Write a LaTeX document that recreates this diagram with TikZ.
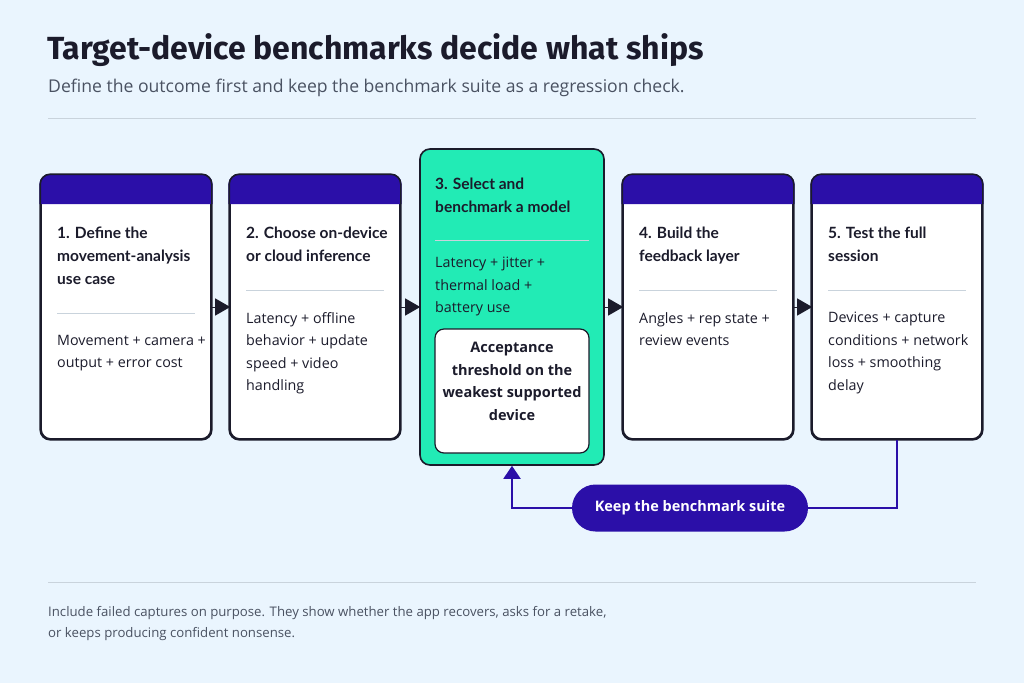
\documentclass[tikz,border=0pt]{standalone}
\usepackage{fontspec}
\setmainfont{Open Sans}
\newfontfamily\headf{Lato}
\newfontfamily\bigf{Fira Sans}
\usetikzlibrary{arrows.meta}
\definecolor{bgc}{HTML}{EAF5FE}
\definecolor{purp}{HTML}{2B0FA8}
\definecolor{mint}{HTML}{22EBB5}
\definecolor{edge}{HTML}{1B1B2B}
\definecolor{grayt}{HTML}{4A5262}
\definecolor{rulec}{HTML}{C9D3DC}
\begin{document}
\begin{tikzpicture}[x=1pt,y=-1pt,
  card/.style={draw=edge,line width=1.6pt,rounded corners=10pt,fill=white,minimum width=170pt,minimum height=264pt,inner sep=0pt},
  ttl/.style={anchor=north west,inner sep=0pt,align=left,font=\headf\bfseries\fontsize{15.5}{23}\selectfont,text=edge},
  bdy/.style={anchor=north west,inner sep=0pt,align=left,font=\fontsize{14.3}{22.5}\selectfont,text=edge},
  sep/.style={draw=rulec,line width=1pt},
  arr/.style={draw=edge,line width=1pt,-{Triangle[length=15pt,width=17pt]},shorten >=-1pt},
  lp/.style={draw=purp,line width=2pt}]
\useasboundingbox (0,0) rectangle (1024,683);
\fill[bgc] (0,0) rectangle (1024,683);
\node[anchor=base west,inner sep=0pt,font=\bigf\bfseries\fontsize{32}{36}\selectfont,text=edge] (title) at (47,59) {Target-device benchmarks decide what ships};
\node[anchor=base west,inner sep=0pt,font=\fontsize{17.6}{20}\selectfont,text=grayt] (sub) at (48,92) {Define the outcome first and keep the benchmark suite as a regression check.};
\draw[rulec,line width=1pt] (48,118) -- (976,118);
\draw[rulec,line width=1pt] (48,582) -- (976,582);
% cards
\node[card] (c1) at (126,307) {};
\node[card] (c2) at (315,307) {};
\node[card,fill=mint,minimum width=184pt,minimum height=316pt] (c3) at (512,307) {};
\node[card] (c4) at (708,307) {};
\node[card] (c5) at (897,307) {};
\foreach \c in {c1,c2,c4,c5}{
  \fill[purp] ([xshift=-0.8pt,yshift=0pt]\c.north west) ++(0,30) [rounded corners=10pt] -- ([xshift=-0.8pt]\c.north west) -- ([xshift=0.8pt]\c.north east) [sharp corners] -- ++(0,30) -- cycle;
  \draw[edge,line width=1.6pt,rounded corners=10pt] (\c.north west) rectangle (\c.south east);
}
% card 1
\node[ttl] (t1) at (57,227) {1. Define the\\movement-analysis\\use case};
\draw[sep] (57,313) -- (195,313);
\node[bdy] (b1) at (57,335) {Movement + camera +\\output + error cost};
% card 2
\node[ttl] (t2) at (246,227) {2. Choose on-device\\or cloud inference};
\draw[sep] (246,290) -- (384,290);
\node[bdy] (b2) at (246,312) {Latency + offline\\behavior + update\\speed + video\\handling};
% card 3
\node[ttl] (t3) at (435,178) {3. Select and\\benchmark a model};
\draw[sep] (435,240) -- (589,240);
\node[bdy] (b3) at (435,257) {Latency + jitter +\\thermal load +\\battery use};
\node[draw=edge,line width=1.2pt,rounded corners=9pt,fill=white,minimum width=154pt,minimum height=124pt,inner sep=0pt] (acc) at (512,391) {};
\node[anchor=north,inner sep=0pt,align=center,font=\bfseries\fontsize{14.5}{22.5}\selectfont,text=edge] (acct) at (512,342) {Acceptance\\threshold on the\\weakest supported\\device};
% card 4
\node[ttl] (t4) at (639,227) {4. Build the\\feedback layer};
\draw[sep] (639,290) -- (777,290);
\node[bdy] (b4) at (639,312) {Angles + rep state +\\review events};
% card 5
\node[ttl] (t5) at (828,227) {5. Test the full\\session};
\draw[sep] (828,290) -- (966,290);
\node[bdy] (b5) at (828,312) {Devices + capture\\conditions + network\\loss + smoothing\\delay};
% arrows
\draw[arr] (c1) -- (c2);
\draw[arr] (c2) -- (c3);
\draw[arr] (c3) -- (c4);
\draw[arr] (c4) -- (c5);
% loop
\node[fill=purp,rounded corners=23.5pt,minimum width=236pt,minimum height=47pt,inner sep=0pt,text=white,font=\bfseries\fontsize{14.5}{16}\selectfont] (pill) at (690,508) {Keep the benchmark suite};
\draw[lp] (c5.south) |- (pill.east);
\draw[lp,-{Triangle[length=13pt,width=17pt]}] (pill.west) -| (c3.south);
% footer
\node[anchor=north west,inner sep=0pt,align=left,font=\fontsize{13.2}{21}\selectfont,text=grayt] (foot) at (48,606) {Include failed captures on purpose. They show whether the app recovers, asks for a retake,\\or keeps producing confident nonsense.};
\end{tikzpicture}
\end{document}
